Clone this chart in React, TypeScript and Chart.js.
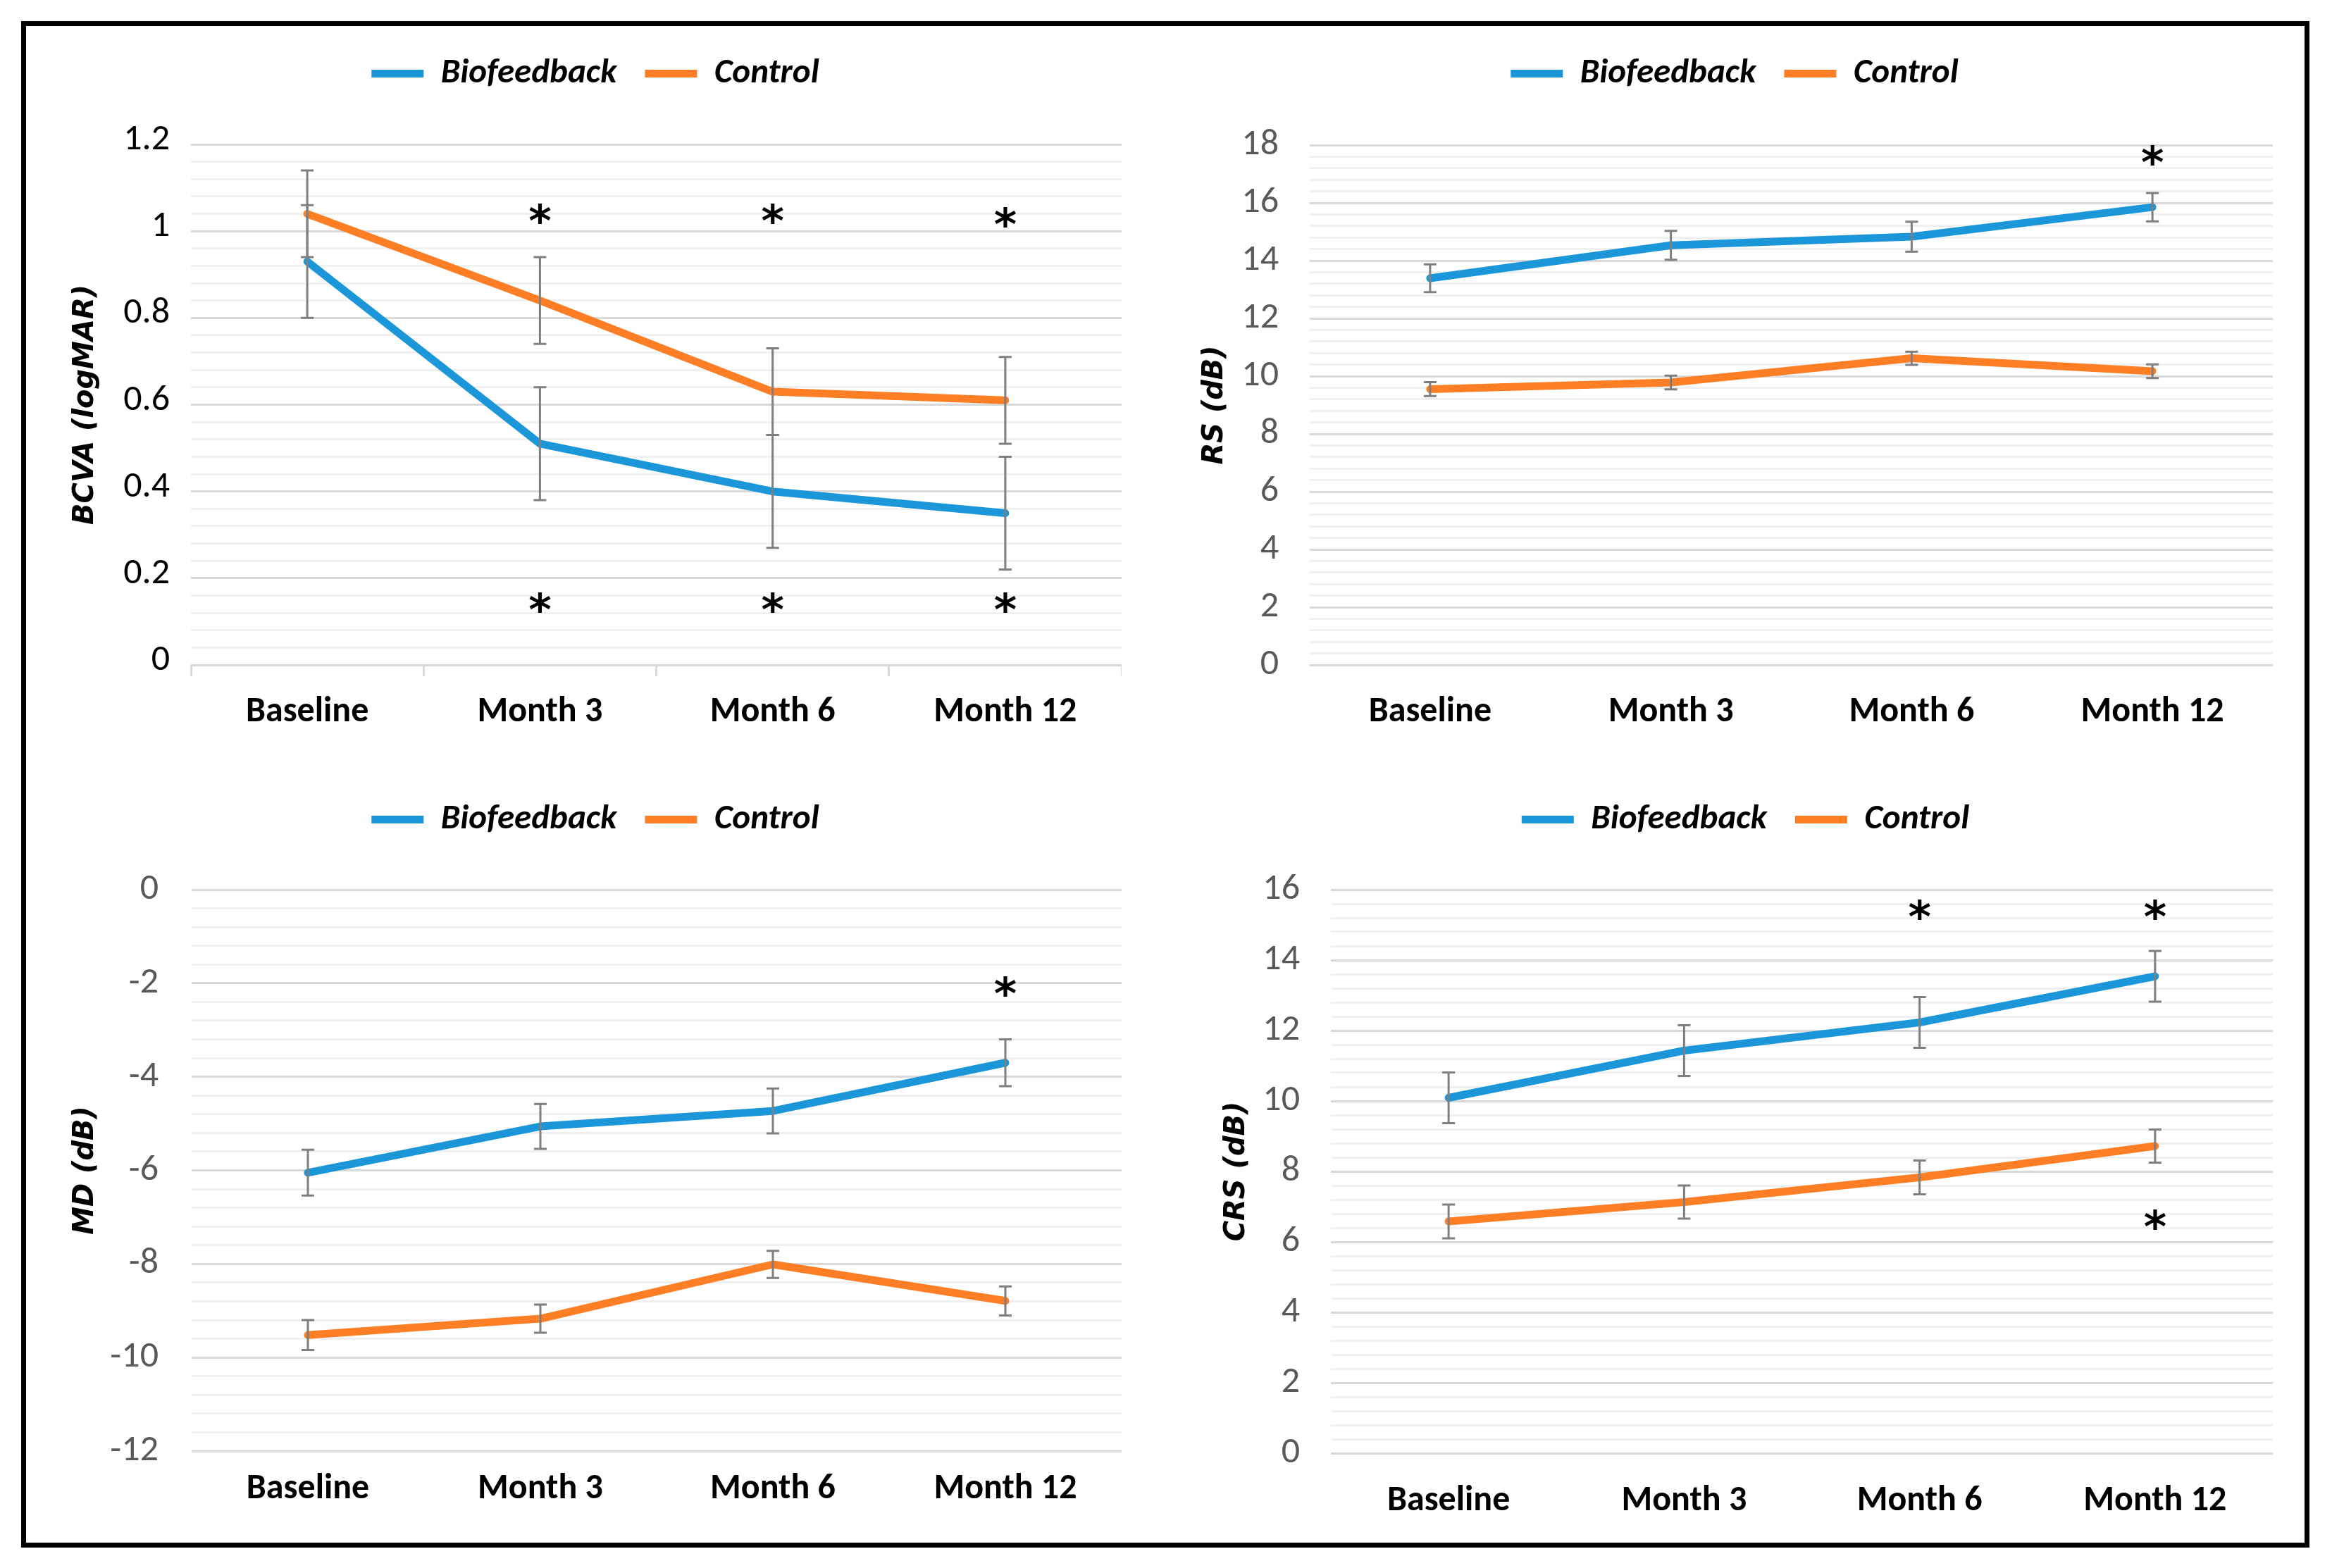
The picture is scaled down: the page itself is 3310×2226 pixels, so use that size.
import React, { useEffect, useRef } from 'react';
import { Chart, registerables } from 'chart.js';

Chart.register(...registerables);

// ---------- data ----------
const categories = ['Baseline', 'Month 3', 'Month 6', 'Month 12'];
const seriesNames = ['Biofeedback', 'Control'];

const bcvaBio = [0.93, 0.51, 0.4, 0.35];
const bcvaBioErr = [0.13, 0.13, 0.13, 0.13];
const bcvaCtl = [1.04, 0.84, 0.63, 0.61];
const bcvaCtlErr = [0.1, 0.1, 0.1, 0.1];
const bcvaStarIdx = [1, 2, 3, 1, 2, 3];
const bcvaStarVal = [1.041, 1.041, 1.033, 0.144, 0.144, 0.144];

const rsBio = [13.39, 14.53, 14.83, 15.85];
const rsBioErr = [0.48, 0.5, 0.52, 0.49];
const rsCtl = [9.55, 9.78, 10.62, 10.17];
const rsCtlErr = [0.24, 0.24, 0.23, 0.24];
const rsStarIdx = [3];
const rsStarVal = [17.65];

const mdBio = [-6.05, -5.06, -4.73, -3.7];
const mdBioErr = [0.49, 0.48, 0.48, 0.5];
const mdCtl = [-9.52, -9.17, -8.01, -8.79];
const mdCtlErr = [0.32, 0.3, 0.29, 0.31];
const mdStarIdx = [3];
const mdStarVal = [-2.06];

const crsBio = [10.09, 11.43, 12.23, 13.54];
const crsBioErr = [0.72, 0.72, 0.72, 0.72];
const crsCtl = [6.58, 7.13, 7.83, 8.72];
const crsCtlErr = [0.48, 0.47, 0.48, 0.47];
const crsStarIdx = [2, 3, 3];
const crsStarVal = [15.45, 15.45, 6.65];

// ---------- styles ----------
const BLUE = '#1B96D8';
const ORANGE = '#FD7E24';
const NARROW = "Carlito, Lato, 'DejaVu Sans Condensed', sans-serif";
const WIDE = "'DejaVu Sans', Verdana, sans-serif";

type PanelCfg = {
  key: string;
  left: number; top: number; width: number; height: number;
  padTop: number; legendExtra: number;
  yWidth: number; yTitle: string; yTitlePad: number; yTickPad: number; yTickColor: string; yLabelOffset: number;
  min: number; max: number; major: number; minor: number;
  xTickPad: number; xTicks: boolean;
  bio: number[]; bioErr: number[]; ctl: number[]; ctlErr: number[];
  starIdx: number[]; starVal: number[];
};

const panels: PanelCfg[] = [
  {
    key: 'bcva', left: 98, top: 40, width: 1494, height: 1004, padTop: 0, legendExtra: 66,
    yWidth: 173, yTitle: 'BCVA (logMAR)', yTitlePad: 0, yTickPad: 30, yTickColor: '#000000', yLabelOffset: -6,
    min: 0, max: 1.2, major: 0.2, minor: 0.04, xTickPad: 21, xTicks: true,
    bio: bcvaBio, bioErr: bcvaBioErr, ctl: bcvaCtl, ctlErr: bcvaCtlErr,
    starIdx: bcvaStarIdx, starVal: bcvaStarVal,
  },
  {
    key: 'rs', left: 1698, top: 40, width: 1528, height: 1004, padTop: 0, legendExtra: 67,
    yWidth: 161, yTitle: 'RS (dB)', yTitlePad: 3, yTickPad: 44, yTickColor: '#595959', yLabelOffset: 0,
    min: 0, max: 18, major: 2, minor: 0.4, xTickPad: 37, xTicks: false,
    bio: rsBio, bioErr: rsBioErr, ctl: rsCtl, ctlErr: rsCtlErr,
    starIdx: rsStarIdx, starVal: rsStarVal,
  },
  {
    key: 'md', left: 98, top: 1090, width: 1494, height: 1070, padTop: 9, legendExtra: 65,
    yWidth: 174, yTitle: 'MD (dB)', yTitlePad: 0, yTickPad: 47, yTickColor: '#595959', yLabelOffset: 0,
    min: -12, max: 0, major: 2, minor: 0.4, xTickPad: 24, xTicks: false,
    bio: mdBio, bioErr: mdBioErr, ctl: mdCtl, ctlErr: mdCtlErr,
    starIdx: mdStarIdx, starVal: mdStarVal,
  },
  {
    key: 'crs', left: 1729, top: 1090, width: 1497, height: 1073, padTop: 9, legendExtra: 65,
    yWidth: 160, yTitle: 'CRS (dB)', yTitlePad: 3, yTickPad: 44, yTickColor: '#595959', yLabelOffset: 0,
    min: 0, max: 16, major: 2, minor: 0.4, xTickPad: 38, xTicks: false,
    bio: crsBio, bioErr: crsBioErr, ctl: crsCtl, ctlErr: crsCtlErr,
    starIdx: crsStarIdx, starVal: crsStarVal,
  },
];

const isMajor = (v: number, major: number) => Math.abs(v / major - Math.round(v / major)) < 1e-6;
const fmt = (v: number) => String(Math.round(v * 100) / 100);

function legendSpacer(extra: number) {
  return {
    id: 'legendSpacer',
    beforeInit(chart: any) {
      const lg = chart.legend;
      if (!lg) return;
      const orig = lg.fit;
      lg.fit = function () {
        orig.call(this);
        this.height += extra;
      };
    },
  };
}

const errorBars = {
  id: 'errorBars',
  afterDatasetsDraw(chart: any) {
    const ctx = chart.ctx;
    const y = chart.scales.y;
    ctx.save();
    ctx.strokeStyle = '#7F7F7F';
    ctx.lineWidth = 3;
    chart.data.datasets.forEach((ds: any, di: number) => {
      const meta = chart.getDatasetMeta(di);
      const errs: number[] = ds.errors || [];
      meta.data.forEach((pt: any, i: number) => {
        const v = ds.data[i];
        const e = errs[i];
        if (e == null) return;
        const px = pt.x;
        const t = y.getPixelForValue(v + e);
        const b = y.getPixelForValue(v - e);
        ctx.beginPath();
        ctx.moveTo(px, t);
        ctx.lineTo(px, b);
        ctx.moveTo(px - 9, t);
        ctx.lineTo(px + 9, t);
        ctx.moveTo(px - 9, b);
        ctx.lineTo(px + 9, b);
        ctx.stroke();
      });
    });
    ctx.restore();
  },
};

function starPlugin(idx: number[], vals: number[]) {
  return {
    id: 'stars',
    afterDraw(chart: any) {
      const ctx = chart.ctx;
      const x = chart.scales.x;
      const y = chart.scales.y;
      ctx.save();
      ctx.fillStyle = '#000';
      ctx.font = `bold 62px ${WIDE}`;
      ctx.textAlign = 'center';
      ctx.textBaseline = 'alphabetic';
      const m = ctx.measureText('*');
      const asc = m.actualBoundingBoxAscent || 0;
      const desc = m.actualBoundingBoxDescent || 0;
      idx.forEach((ci, k) => {
        const px = x.getPixelForValue(ci);
        const py = y.getPixelForValue(vals[k]);
        ctx.fillText('*', px, py + (asc - desc) / 2);
      });
      ctx.restore();
    },
  };
}

function Panel({ cfg }: { cfg: PanelCfg }) {
  const ref = useRef<HTMLCanvasElement | null>(null);
  useEffect(() => {
    if (!ref.current) return;
    const chart = new Chart(ref.current, {
      type: 'line',
      data: {
        labels: categories,
        datasets: [
          {
            label: seriesNames[0],
            data: cfg.bio,
            errors: cfg.bioErr,
            borderColor: BLUE,
            backgroundColor: BLUE,
            borderWidth: 11,
            borderCapStyle: 'round',
            borderJoinStyle: 'round',
            pointRadius: 0,
            pointHoverRadius: 0,
            tension: 0,
            fill: false,
          } as any,
          {
            label: seriesNames[1],
            data: cfg.ctl,
            errors: cfg.ctlErr,
            borderColor: ORANGE,
            backgroundColor: ORANGE,
            borderWidth: 11,
            borderCapStyle: 'round',
            borderJoinStyle: 'round',
            pointRadius: 0,
            pointHoverRadius: 0,
            tension: 0,
            fill: false,
          } as any,
        ],
      },
      options: {
        animation: false,
        responsive: true,
        maintainAspectRatio: false,
        events: [],
        layout: { padding: { top: cfg.padTop, left: 0, right: 0, bottom: 0 } },
        plugins: {
          tooltip: { enabled: false },
          legend: {
            display: true,
            position: 'top',
            labels: {
              usePointStyle: true,
              pointStyle: 'line',
              pointStyleWidth: 74,
              padding: 40,
              color: '#000',
              font: { family: NARROW, size: 49, weight: 'bold', style: 'italic' },
            },
          },
        },
        scales: {
          x: {
            type: 'category',
            offset: true,
            grid: cfg.xTicks
              ? { display: true, drawOnChartArea: false, drawTicks: true, tickLength: 16, color: '#D9D9D9', lineWidth: 3, offset: true }
              : { display: false, drawTicks: false, drawOnChartArea: false },
            border: { display: false },
            ticks: {
              color: '#000',
              padding: cfg.xTickPad,
              maxRotation: 0,
              autoSkip: false,
              font: { family: NARROW, size: 50, weight: 'bold' },
            },
            afterFit: (s: any) => { s.height = 100; },
          },
          y: {
            type: 'linear',
            min: cfg.min,
            max: cfg.max,
            border: { display: false },
            grid: {
              drawTicks: false,
              lineWidth: 3,
              color: (c: any) => (isMajor(c.tick.value, cfg.major) ? '#D9D9D9' : '#F0F0F0'),
            },
            ticks: {
              stepSize: cfg.minor,
              autoSkip: false,
              padding: cfg.yTickPad,
              labelOffset: cfg.yLabelOffset,
              color: cfg.yTickColor,
              font: { family: NARROW, size: 52 },
              callback: (v: any) => (isMajor(Number(v), cfg.major) ? fmt(Number(v)) : ''),
            },
            title: {
              display: true,
              text: cfg.yTitle,
              color: '#000',
              padding: { top: cfg.yTitlePad, bottom: 0 },
              font: { family: WIDE, size: 40, weight: 'bold', style: 'italic' },
            },
            afterFit: (s: any) => { s.width = cfg.yWidth; },
          },
        },
      } as any,
      plugins: [legendSpacer(cfg.legendExtra), errorBars, starPlugin(cfg.starIdx, cfg.starVal)],
    });
    return () => chart.destroy();
  }, [cfg]);
  return (
    <div style={{ position: 'absolute', left: cfg.left, top: cfg.top, width: cfg.width, height: cfg.height }}>
      <canvas ref={ref} />
    </div>
  );
}

export default function App() {
  return (
    <div style={{ position: 'absolute', left: 0, top: 0, width: 3310, height: 2226, background: '#fff', overflow: 'hidden' }}>
      <div
        style={{
          position: 'absolute', left: 30, top: 30, width: 3248, height: 2167,
          border: '7px solid #000', boxSizing: 'border-box',
        }}
      />
      {panels.map((p) => (
        <Panel key={p.key} cfg={p} />
      ))}
    </div>
  );
}
